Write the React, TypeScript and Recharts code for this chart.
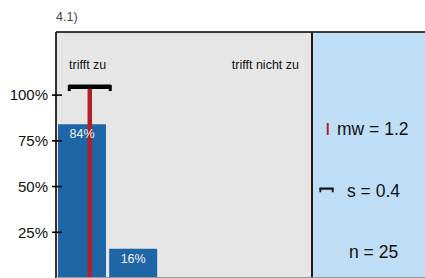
import React from 'react';
import { BarChart, Bar, XAxis, YAxis, ReferenceLine, LabelList } from 'recharts';

const categories = ['1', '2', '3', '4', '5'];
const positions = [1, 2, 3, 4, 5];
const shares = [84, 16, 0, 0, 0];
const yTicks = [25, 50, 75, 100];
const leftLabel = 'trifft zu';
const rightLabel = 'trifft nicht zu';
const title = '4.1)';
const mean = 1.16;
const sd = 0.4;
const n = 25;
const bracketLevel = 104.6;

const data = categories.map((c, i) => ({ cat: c, pos: positions[i], share: shares[i] }));

const FONT = '"Liberation Sans", Arial, sans-serif';

const YTick = (props: any) => {
  const { x, y, payload } = props;
  return (
    <g>
      <line x1={x + 4} x2={x + 14} y1={y} y2={y} stroke="#000" strokeWidth={1.6} />
      <text x={x} y={y} dy="0.355em" textAnchor="end" fontSize={15} fill="#111" fontFamily={FONT}>
        {payload.value}%
      </text>
    </g>
  );
};

export default function App() {
  return (
    <div style={{ position: 'fixed', left: 0, top: 0, width: 425, height: 278, background: '#fff', fontFamily: FONT, overflow: 'hidden' }}>
      <div style={{ position: 'absolute', left: 56, top: 32, width: 256, height: 246, background: '#e6e6e6' }} />
      <div style={{ position: 'absolute', left: 312, top: 32, width: 113, height: 246, background: '#bfdef5' }} />
      <div style={{ position: 'absolute', left: 0, top: 0 }}>
        <BarChart width={425} height={278} data={data} margin={{ top: 32, right: 113, bottom: 0, left: 0 }}>
          <XAxis xAxisId="cat" dataKey="cat" hide />
          <XAxis xAxisId="num" dataKey="pos" type="number" domain={[0.5, 5.5]} allowDataOverflow hide />
          <YAxis
            width={56}
            domain={[0, 134.5]}
            allowDataOverflow
            ticks={yTicks}
            tickSize={4}
            tickMargin={4}
            tickLine={false}
            axisLine={{ stroke: '#000', strokeWidth: 1.6 }}
            tick={<YTick />}
          />
          <Bar xAxisId="cat" dataKey="share" fill="#1f66a7" barSize={48} isAnimationActive={false}>
            <LabelList
              dataKey="share"
              position="insideTop"
              offset={5}
              fill="#f2f2f2"
              fontSize={12.5}
              fontFamily={FONT}
              formatter={(v: any) => (v > 0 ? `${v}%` : '')}
            />
          </Bar>
          <ReferenceLine
            xAxisId="num"
            segment={[{ x: mean, y: 0 }, { x: mean, y: bracketLevel }]}
            stroke="#b2202a"
            strokeWidth={4.5}
          />
          <ReferenceLine
            xAxisId="num"
            segment={[{ x: mean - sd, y: bracketLevel }, { x: mean + sd, y: bracketLevel }]}
            stroke="#000"
            strokeWidth={4.5}
          />
          <ReferenceLine
            xAxisId="num"
            segment={[{ x: mean - sd, y: bracketLevel + 1 }, { x: mean - sd, y: bracketLevel - 2.4 }]}
            stroke="#000"
            strokeWidth={3}
          />
          <ReferenceLine
            xAxisId="num"
            segment={[{ x: mean + sd, y: bracketLevel + 1 }, { x: mean + sd, y: bracketLevel - 2.4 }]}
            stroke="#000"
            strokeWidth={3}
          />
        </BarChart>
      </div>
      <svg width={425} height={278} style={{ position: 'absolute', left: 0, top: 0, pointerEvents: 'none' }}>
        <line x1={56} x2={425} y1={32} y2={32} stroke="#000" strokeWidth={1.6} />
        <line x1={312} x2={312} y1={32} y2={278} stroke="#1a1a1a" strokeWidth={2} />
        <line x1={56} x2={425} y1={277.5} y2={277.5} stroke="#999" strokeWidth={1} />
        <text x={56} y={21} fontSize={12.5} fill="#444" fontFamily={FONT}>{title}</text>
        <text x={69} y={69} fontSize={12.5} fill="#111" fontFamily={FONT}>{leftLabel}</text>
        <text x={299} y={69} fontSize={12.5} fill="#111" textAnchor="end" fontFamily={FONT}>{rightLabel}</text>
        <line x1={327.7} x2={327.7} y1={123} y2={135} stroke="#b2202a" strokeWidth={2} />
        <text x={337} y={135} fontSize={17.5} fill="#111" fontFamily={FONT}>mw = {mean.toFixed(1)}</text>
        <line x1={319.5} x2={333.5} y1={188.6} y2={188.6} stroke="#111" strokeWidth={2.2} />
        <line x1={320.3} x2={320.3} y1={188} y2={192.3} stroke="#111" strokeWidth={1.8} />
        <line x1={332.7} x2={332.7} y1={188} y2={192.3} stroke="#111" strokeWidth={1.8} />
        <text x={347} y={196.7} fontSize={17.5} fill="#111" fontFamily={FONT}>s = {sd.toFixed(1)}</text>
        <text x={349} y={258.3} fontSize={17.5} fill="#111" fontFamily={FONT}>n = {n}</text>
      </svg>
    </div>
  );
}
